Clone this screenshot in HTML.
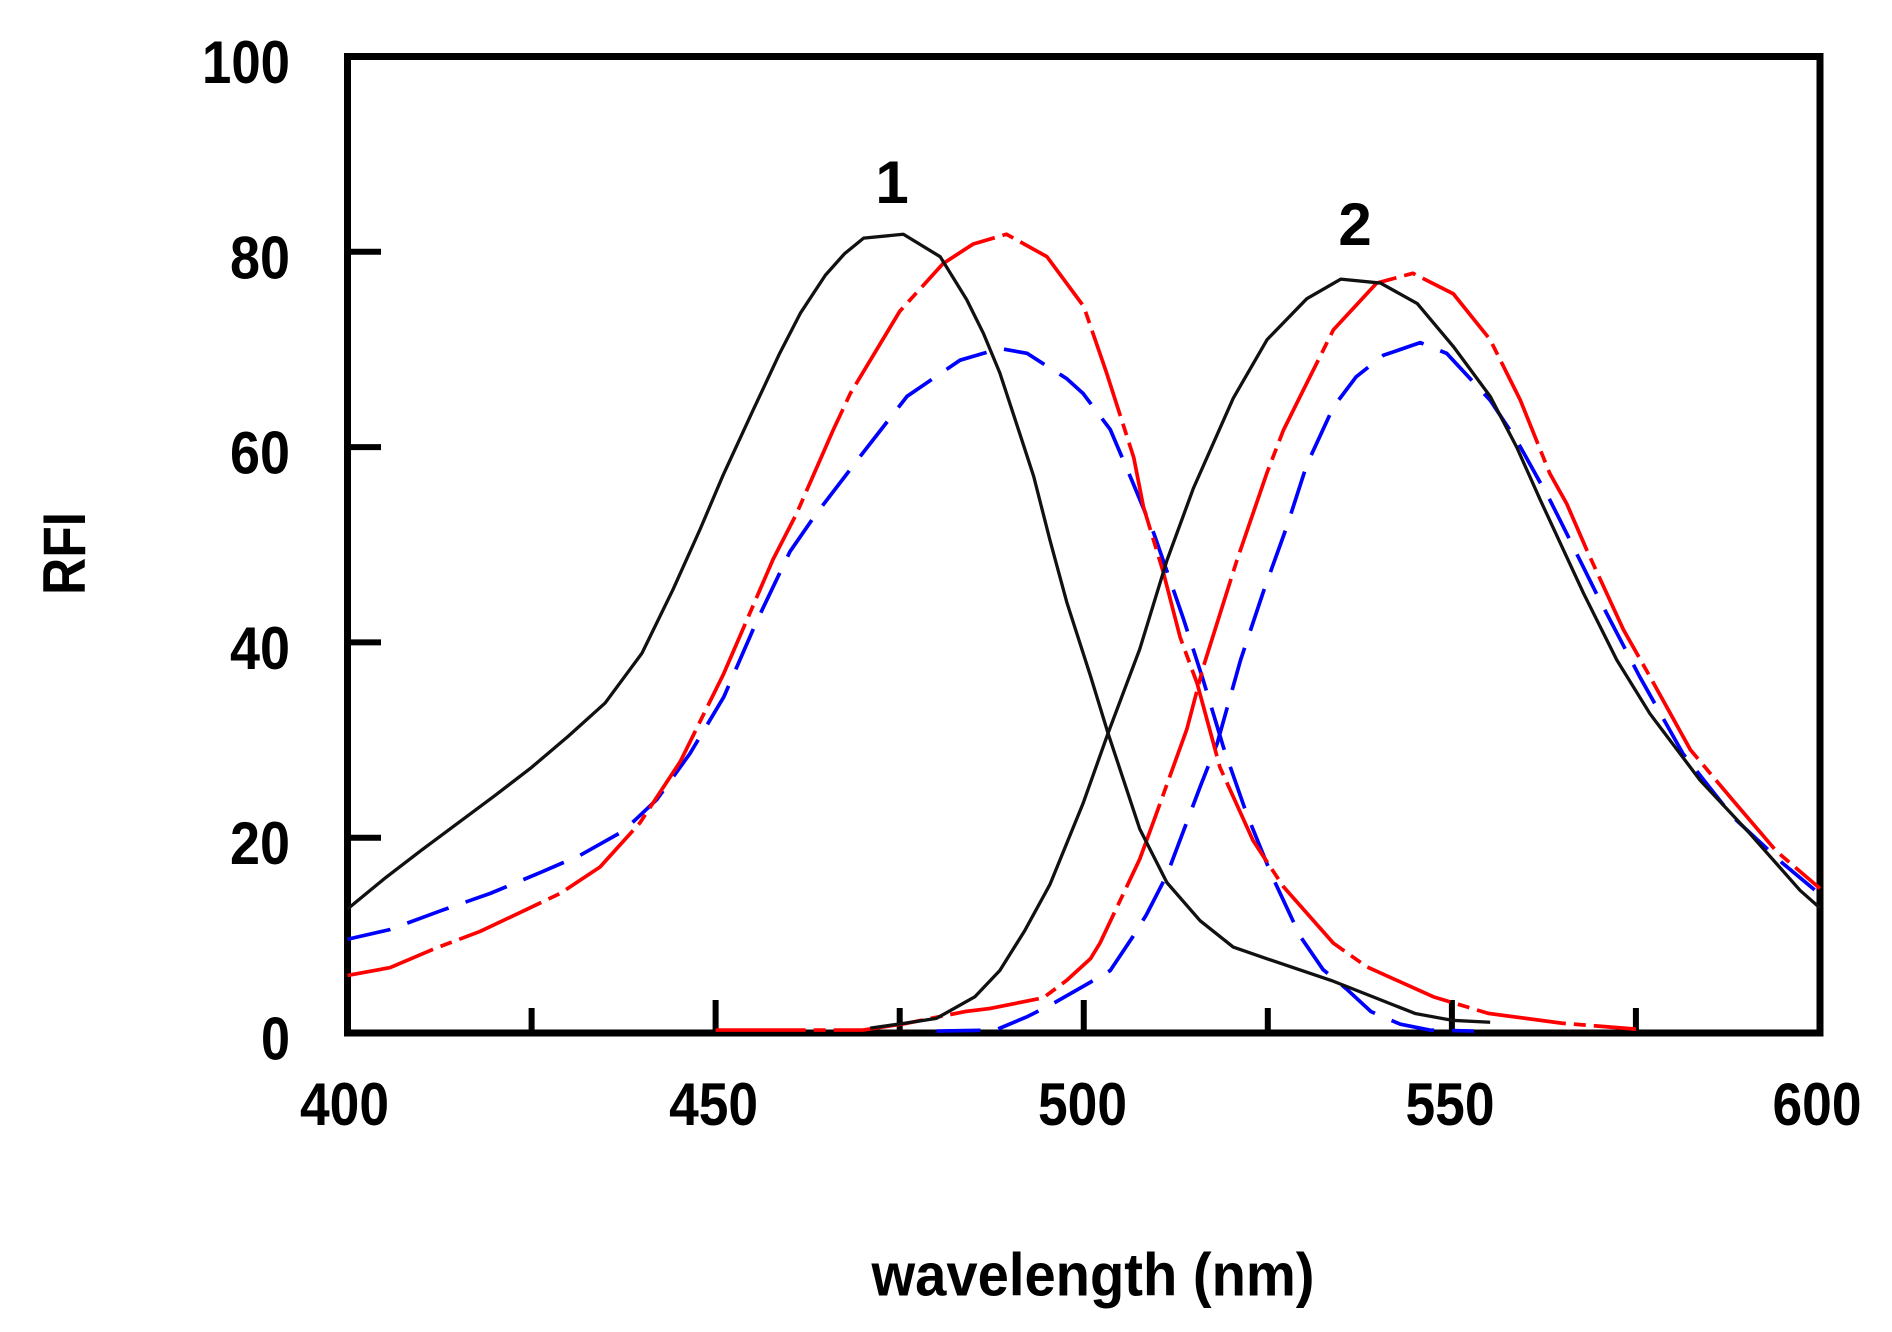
<!DOCTYPE html>
<html>
<head>
<meta charset="utf-8">
<style>
  html,body{margin:0;padding:0;background:#fff;}
  svg{display:block;}
  text{font-family:"Liberation Sans",Arial,sans-serif;font-weight:bold;fill:#000;}
</style>
</head>
<body>
<svg width="1892" height="1332" viewBox="0 0 1892 1332" xmlns="http://www.w3.org/2000/svg">
  <rect x="0" y="0" width="1892" height="1332" fill="#fff"/>

  <!-- frame -->
  <rect x="347.5" y="56.5" width="1472.5" height="976.5" fill="none" stroke="#000" stroke-width="7"/>

  <!-- left ticks -->
  <g stroke="#000" stroke-width="6">
    <line x1="347.5" y1="837.7" x2="381" y2="837.7"/>
    <line x1="347.5" y1="642.4" x2="381" y2="642.4"/>
    <line x1="347.5" y1="447.1" x2="381" y2="447.1"/>
    <line x1="347.5" y1="251.8" x2="381" y2="251.8"/>
    <!-- bottom ticks -->
    <line x1="531.6" y1="1033" x2="531.6" y2="1008"/>
    <line x1="715.6" y1="1033" x2="715.6" y2="1000"/>
    <line x1="899.7" y1="1033" x2="899.7" y2="1008"/>
    <line x1="1083.75" y1="1033" x2="1083.75" y2="1000"/>
    <line x1="1267.8" y1="1033" x2="1267.8" y2="1008"/>
    <line x1="1451.9" y1="1033" x2="1451.9" y2="1000"/>
    <line x1="1635.9" y1="1033" x2="1635.9" y2="1008"/>
  </g>

  <!-- y tick labels -->
  <g font-size="60" text-anchor="end">
    <text x="290" y="83" textLength="88" lengthAdjust="spacingAndGlyphs">100</text>
    <text x="290" y="278.3" textLength="60" lengthAdjust="spacingAndGlyphs">80</text>
    <text x="290" y="473.6" textLength="60" lengthAdjust="spacingAndGlyphs">60</text>
    <text x="290" y="668.9" textLength="60" lengthAdjust="spacingAndGlyphs">40</text>
    <text x="290" y="864.2" textLength="60" lengthAdjust="spacingAndGlyphs">20</text>
    <text x="290" y="1059.5" textLength="29" lengthAdjust="spacingAndGlyphs">0</text>
  </g>

  <!-- x tick labels -->
  <g font-size="60" text-anchor="middle">
    <text x="344.5" y="1125" textLength="89" lengthAdjust="spacingAndGlyphs">400</text>
    <text x="713.6" y="1125" textLength="89" lengthAdjust="spacingAndGlyphs">450</text>
    <text x="1082.5" y="1125" textLength="89" lengthAdjust="spacingAndGlyphs">500</text>
    <text x="1450" y="1125" textLength="89" lengthAdjust="spacingAndGlyphs">550</text>
    <text x="1817" y="1125" textLength="89" lengthAdjust="spacingAndGlyphs">600</text>
  </g>

  <!-- axis titles -->
  <text x="1093" y="1295.5" font-size="60" text-anchor="middle" textLength="443" lengthAdjust="spacingAndGlyphs">wavelength (nm)</text>
  <text transform="translate(85,553.5) rotate(-90)" x="0" y="0" font-size="60" text-anchor="middle" textLength="83" lengthAdjust="spacingAndGlyphs">RFI</text>

  <!-- peak labels -->
  <text x="892" y="203" font-size="60" text-anchor="middle">1</text>
  <text x="1355" y="245" font-size="60" text-anchor="middle">2</text>

  <!-- curves -->
  <g transform="matrix(7.3625 0 0 -9.765 -2597.5 1033)" fill="none" stroke-linejoin="round">
    <!-- blue dashed 1 -->
    <polyline vector-effect="non-scaling-stroke" stroke="#0000ff" stroke-width="3.7" stroke-dasharray="44 18"
      points="400,9.6 405.8,10.6 412.6,12.5 419.4,14.3 426.1,16.4 431.6,18.2 437.5,20.7 442,23.9 446.5,28.6 451.1,34.4 455.6,42.2 460.1,49.3 463.5,53 470.1,59.5 476,65.2 483.2,68.9 488.6,70.1 492.3,69.6 497.7,67 499.9,65.5 503.6,61.8 506.7,56.3 509.5,51.2 513.5,42.5 516.2,36.2 519,29.2 522.1,22.5 525.5,16.2 529.4,9.9 532.5,6.5 535.7,4.5 539,2.2 543,0.9 547,0.3 553,0.2"/>
    <!-- blue dashed 2 -->
    <polyline vector-effect="non-scaling-stroke" stroke="#0000ff" stroke-width="3.7" stroke-dasharray="44 18"
      points="480,0.2 488,0.3 492.4,1.7 495.8,3.0 500.9,5.2 503.6,6.4 506.7,9.9 508.5,12.1 511.3,16.2 515.8,25.2 518.1,29.6 521.3,38.2 524.4,45.2 527.6,51.9 530.3,58.2 533.9,64.1 537,67.2 540.7,69.4 545.7,70.7 549.3,69.6 555.2,64.8 558.8,60.7 563.3,54.6 564.7,52.5 570.1,44.3 575.5,36.5 581.4,28.6 588.2,22.1 594.9,17.4 600,14.2"/>
    <!-- red dash-dot 1 -->
    <polyline vector-effect="non-scaling-stroke" stroke="#ff0000" stroke-width="3.7" stroke-dasharray="90 8 12 8"
      points="400,5.9 405.8,6.7 411.7,8.6 418,10.4 423.9,12.5 428.9,14.3 434.3,17 439.7,21.5 445.2,27.8 451.1,36.8 457.8,48.5 461,53.2 466,61.8 468.3,65.5 475,73.9 480.9,78.8 485,80.8 489.5,81.8 495,79.5 500,74.4 503.1,67.6 506.8,58.9 508.1,53.9 510.8,47.2 513.1,40.5 515.4,35.8 518.5,27.2 523,19.7 527.1,15 533.9,9.2 538.4,6.8 547.5,3.7 555,2.0 565,1.0 575,0.4"/>
    <!-- red dash-dot 2 -->
    <polyline vector-effect="non-scaling-stroke" stroke="#ff0000" stroke-width="3.7" stroke-dasharray="90 8 12 8"
      points="450,0.3 470,0.3 476,1.0 483.9,2.2 487.2,2.5 494.5,3.6 497.7,5.4 500.9,7.6 502.2,9.2 507.6,17.8 509.5,21.7 514,31.1 516.2,37.4 519,44.1 520.8,48.4 524.9,57.4 527.1,61.7 529.4,65.2 533.9,72 539.8,76.8 544.7,77.8 550.2,75.7 555.2,71 559.3,64.8 563.3,57.3 565.6,54.2 568.3,49.5 573.3,41.3 576.9,36.5 582.4,29 588.2,23.8 594.1,18.6 600,14.8"/>
    <!-- black solid 1 -->
    <polyline vector-effect="non-scaling-stroke" stroke="#111" stroke-width="3.3"
      points="400,12.7 405,15.8 410,18.7 415,21.5 420,24.3 425,27.2 430,30.4 435,33.8 440,38.9 444.2,45.4 447.9,51.6 451,57.1 455.1,63.8 458.7,69.6 461.5,73.7 464.9,77.6 467.5,79.8 470.1,81.4 475.5,81.8 480.5,79.5 484.1,75.1 486.4,71.6 488.6,67.6 491.3,61.4 493.2,57 495.4,50.5 497.7,44.1 500.9,36.6 503.3,30.7 507.6,20.9 511.3,15.4 515.8,11.5 520.3,8.8 524.9,7.6 533.9,5.3 539.3,3.7 545,2.0 550,1.3 555.2,1.1"/>
    <!-- black solid 2 -->
    <polyline vector-effect="non-scaling-stroke" stroke="#111" stroke-width="3.3"
      points="471,0.5 475.7,1.0 480,1.5 485.2,3.7 488.6,6.4 492,10.5 495.4,15.2 499.9,23.5 503.3,30.7 507.6,39.3 511.3,48.4 514.9,55.8 520.3,65 524.9,71 530.3,75.2 534.9,77.2 540.3,76.8 545.3,74.7 550.2,70.3 555.2,65.2 558.8,60 562,54.6 567.9,45 572.4,38.2 576.9,32.7 583.7,25.9 590.5,20.4 597.3,14.6 600,12.8"/>
  </g>
</svg>
</body>
</html>
